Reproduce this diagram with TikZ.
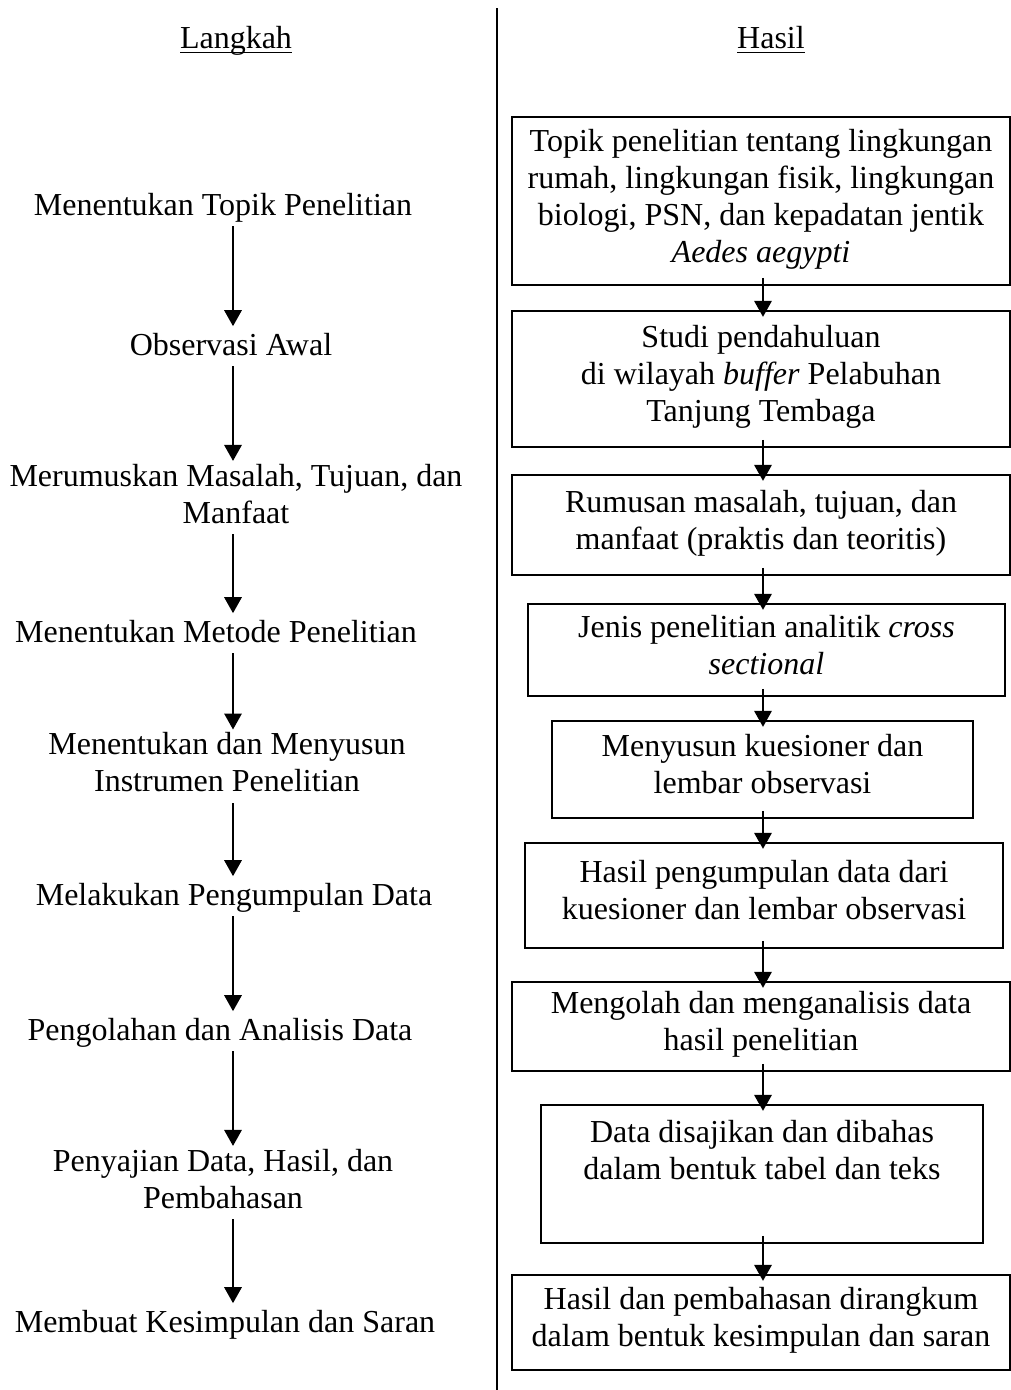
\documentclass[tikz,border=0pt]{standalone}
\usepackage{fontspec}
\setmainfont{Liberation Serif}
\usetikzlibrary{arrows.meta}

\newsavebox{\kotakjudul}
\newcommand{\garisbawah}[1]{\sbox{\kotakjudul}{#1}%
  \rlap{\rule[-3.8pt]{\wd\kotakjudul}{0.8pt}}\usebox{\kotakjudul}}
\newcommand{\penyangga}{\rule{0pt}{24.6pt}}

\tikzset{
  langkah/.style={inner sep=0pt, align=center,
    execute at begin node=\strut, execute at end node=\strut},
  hasil/.style={draw, line width=1.2pt, inner sep=0pt, align=center,
    execute at begin node=\penyangga, execute at end node=\strut},
  panah/.style={line width=1.6pt, -{Triangle[length=12pt,width=13pt]}},
}

\begin{document}
\begin{tikzpicture}[x=0.75pt,y=-0.75pt,font=\fontsize{24pt}{27.75pt}\selectfont]
  \useasboundingbox (0,0) rectangle (1011,1390);
  % headers and divider
  \node[langkah] (judulkiri) at (236,40.6) {\garisbawah{Langkah}};
  \node[langkah] (judulkanan) at (771,40.6) {\garisbawah{Hasil}};
  \draw[line width=1.5pt] (497,8) -- (497,1390);
  \coordinate (sumbukiri) at (233,0);
  \coordinate (sumbukanan) at (763,0);
  % left column: steps
  \node[langkah] (l1) at (223,207.6) {Menentukan Topik Penelitian};
  \node[langkah] (l2) at (231,347.6) {Observasi Awal};
  \node[langkah] (l3) at (236,499) {Merumuskan Masalah, Tujuan, dan\\Manfaat};
  \node[langkah] (l4) at (216,634.6) {Menentukan Metode Penelitian};
  \node[langkah] (l5) at (227,767.6) {Menentukan dan Menyusun\\Instrumen Penelitian};
  \node[langkah] (l6) at (234,897.6) {Melakukan Pengumpulan Data};
  \node[langkah] (l7) at (220,1032.6) {Pengolahan dan Analisis Data};
  \node[langkah] (l8) at (223,1184) {Penyajian Data, Hasil, dan\\Pembahasan};
  \node[langkah] (l9) at (225,1324.6) {Membuat Kesimpulan dan Saran};
  \foreach \a/\b in {l1/l2,l2/l3,l3/l4,l4/l5,l5/l6,l6/l7,l7/l8,l8/l9}
    \draw[panah, shorten >=2pt] (\a.south -| sumbukiri) -- (\b.north -| sumbukiri);
  % right column: results
  \node[hasil, minimum width=373.5pt, minimum height=126pt] (b1) at (761,201)
    {Topik penelitian tentang lingkungan\\rumah, lingkungan fisik, lingkungan\\biologi, PSN, dan kepadatan jentik\\\textit{Aedes aegypti}};
  \node[hasil, minimum width=373.5pt, minimum height=102pt] (b2) at (761,379)
    {Studi pendahuluan\\di wilayah \textit{buffer} Pelabuhan\\Tanjung Tembaga};
  \node[hasil, minimum width=373.5pt, minimum height=75pt] (b3) at (761,525)
    {Rumusan masalah, tujuan, dan\\manfaat (praktis dan teoritis)};
  \node[hasil, minimum width=357.75pt, minimum height=69pt] (b4) at (766.5,650)
    {Jenis penelitian analitik \textit{cross}\\\textit{sectional}};
  \node[hasil, minimum width=315.75pt, minimum height=72.75pt] (b5) at (762.5,769.5)
    {Menyusun kuesioner dan\\lembar observasi};
  \node[hasil, minimum width=358.5pt, minimum height=78.75pt] (b6) at (764,895.5)
    {Hasil pengumpulan data dari\\kuesioner dan lembar observasi};
  \node[hasil, minimum width=373.5pt, minimum height=66.75pt] (b7) at (761,1026.5)
    {Mengolah dan menganalisis data\\hasil penelitian};
  \node[hasil, minimum width=331.5pt, minimum height=103.5pt] (b8) at (762,1174)
    {Data disajikan dan dibahas\\dalam bentuk tabel dan teks\\};
  \node[hasil, minimum width=373.5pt, minimum height=71.25pt] (b9) at (761,1322.5)
    {Hasil dan pembahasan dirangkum\\dalam bentuk kesimpulan dan saran};
  \foreach \a/\b in {b1/b2,b2/b3,b3/b4,b4/b5,b5/b6,b6/b7,b7/b8,b8/b9}
    \draw[panah, shorten <=-6pt, shorten >=-5pt] (\a.south -| sumbukanan) -- (\b.north -| sumbukanan);
\end{tikzpicture}
\end{document}
